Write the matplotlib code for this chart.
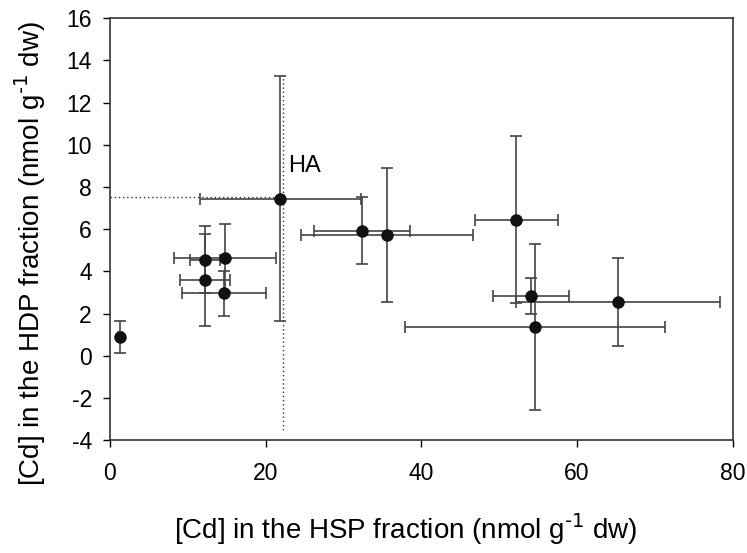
import matplotlib
matplotlib.use("Agg")
import matplotlib.pyplot as plt

plt.rcParams["font.family"] = ["Liberation Sans", "DejaVu Sans"]
plt.rcParams["axes.unicode_minus"] = False

# ============ data ============
hsp = [1.3, 12.2, 12.2, 14.8, 14.7, 21.9, 32.4, 35.6, 52.2, 54.1, 54.6, 65.2]
hdp = [0.88, 4.56, 3.58, 4.64, 2.96, 7.44, 5.93, 5.72, 6.46, 2.83, 1.35, 2.55]
hsp_err = [0.3, 1.9, 3.2, 6.6, 5.4, 10.3, 6.2, 11.1, 5.3, 4.9, 16.7, 13.1]
hdp_err = [0.77, 1.6, 2.17, 1.62, 1.07, 5.8, 1.6, 3.16, 3.95, 0.84, 3.93, 2.1]

ha_x, ha_y = 22.3, 7.55
ha_top, ha_bottom = 13.3, -3.5

fig, ax = plt.subplots(figsize=(7.47, 5.53), dpi=100)
fig.subplots_adjust(left=0.147, right=0.981, top=0.967, bottom=0.204)

# dotted guide lines for HA
ax.plot([ha_x, ha_x], [ha_bottom, ha_top], ls=(0, (1, 2)), color="#333333", lw=1)
ax.plot([0, ha_x], [ha_y, ha_y], ls=(0, (1, 2)), color="#333333", lw=1)

ax.errorbar(hsp, hdp, xerr=hsp_err, yerr=hdp_err, fmt="o", color="#111111",
            ecolor="#444444", elinewidth=1.2, capsize=4.5, capthick=1.2,
            markersize=8, zorder=3)

ax.text(ha_x + 0.6, 9.0, "HA", fontsize=17, ha="left", va="center")

ax.set_xlim(0, 80)
ax.set_ylim(-4, 16)
ax.set_xticks(range(0, 81, 20))
ax.set_yticks(range(-4, 17, 2))
ax.tick_params(axis="y", direction="out", labelsize=16.5, length=5, width=1, pad=8)
ax.tick_params(axis="x", direction="out", labelsize=16.5, length=5, width=1, pad=11)
for s in ax.spines.values():
    s.set_linewidth(1.2)
    s.set_color("#333333")

ax.set_xlabel(r"[Cd] in the HSP fraction (nmol g$^{\text{-1}}$ dw)", fontsize=20, va="center")
ax.set_ylabel(r"[Cd] in the HDP fraction (nmol g$^{\text{-1}}$ dw)", fontsize=20, va="center")
ax.xaxis.set_label_coords(0.475, -0.21)
ax.yaxis.set_label_coords(-0.128, 0.443)

fig.savefig("out.png", dpi=100)
